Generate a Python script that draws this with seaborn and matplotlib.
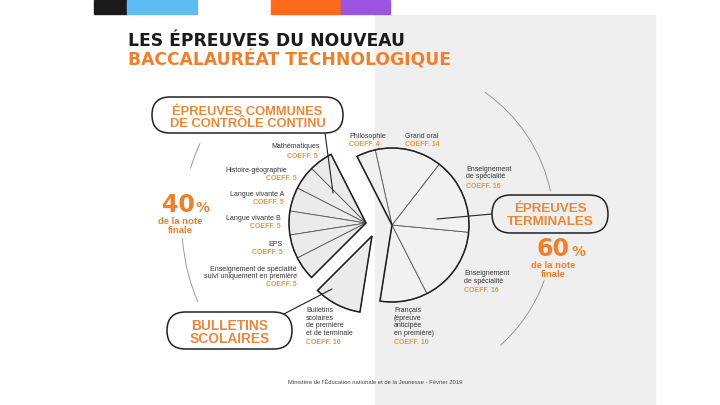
import numpy as np
import matplotlib.pyplot as plt
import seaborn as sns
from matplotlib.patches import FancyBboxPatch, Rectangle, Arc

sns.set_theme(style="white")
plt.rcParams["font.family"] = ["Liberation Sans", "DejaVu Sans"]

# data: coefficients of the "bac technologique" exams
cc_subjects = ["Mathématiques", "Histoire-géographie", "Langue vivante A",
               "Langue vivante B", "EPS",
               "Enseignement de spécialité\nsuivi uniquement en première"]
cc_coefs = [5, 5, 5, 5, 5, 5]
bulletin_subjects = ["Bulletins\nscolaires\nde première\net de terminale"]
bulletin_coefs = [10]
final_subjects = ["Français\n(épreuve\nanticipée\nen première)",
                  "Enseignement\nde spécialité", "Enseignement\nde spécialité",
                  "Grand oral", "Philosophie"]
final_coefs = [10, 16, 16, 14, 4]

orange = "#ef7f2a"
orange_lt = "#f0923c"
dark = "#333333"

fig = plt.figure(figsize=(7.2, 4.05), dpi=100)
ax = fig.add_axes([0, 0, 1, 1])

total = sum(cc_coefs) + sum(bulletin_coefs) + sum(final_coefs)
R = 77

# three exploded groups of the same pie (y axis is inverted, so clockwise in data)
groups = [
    (final_coefs, (392, 225), 99, "#f1f1f1"),
    (cc_coefs, (366, 223), -117, "#ebebeb"),
    (bulletin_coefs, (372, 236), -225, "#ebebeb"),
]
for coefs, center, start, fill in groups:
    fr = np.array(coefs) / total
    ax.pie(fr, normalize=False, startangle=start, counterclock=False,
           center=center, radius=R, colors=[fill] * len(coefs),
           wedgeprops=dict(edgecolor="#555555", linewidth=0.6), frame=True)
    ax.pie([fr.sum()], normalize=False, startangle=start, counterclock=False,
           center=center, radius=R, colors=["none"],
           wedgeprops=dict(edgecolor="#1e1e1e", linewidth=1.1, fill=False),
           frame=True)

ax.set_xlim(0, 720)
ax.set_ylim(405, 0)
ax.set_aspect("equal")
ax.axis("off")

# backgrounds and top bar
ax.add_patch(Rectangle((375, 15), 280, 390, color="#efefef", zorder=-5))
for x0, x1, c in [(94, 127, "#1a1a1a"), (127, 197, "#5dbdf2"),
                  (271, 341, "#ff6a1a"), (341, 390, "#9b55e0")]:
    ax.add_patch(Rectangle((x0, 0), x1 - x0, 14, color=c, zorder=-4))

# title
ax.text(128, 46, "LES ÉPREUVES DU NOUVEAU", fontsize=12.3, fontweight="bold",
        family="DejaVu Sans", color="#1a1a1a", va="baseline")
ax.text(128, 65, "BACCALAURÉAT TECHNOLOGIQUE", fontsize=12.3, fontweight="bold",
        family="DejaVu Sans", color=orange, va="baseline")

# big thin arcs
for c, r, t1, t2 in [((375, 225), 193, -163, -155), ((375, 225), 193, -203.5, -184),
                     ((392, 225), 162, -55, -12), ((392, 225), 162, 20, 48)]:
    ax.add_patch(Arc(c, 2 * r, 2 * r, theta1=t1, theta2=t2,
                     color="#8a8a8a", lw=0.6))

# boxes
for (x0, y0, x1, y1), fc, lines, fs in [
    ((152, 97, 343, 133), "white", [("ÉPREUVES COMMUNES", 115), ("DE CONTRÔLE CONTINU", 127)], 9.3),
    ((492, 195, 608, 233), "#efefef", [("ÉPREUVES", 212), ("TERMINALES", 225)], 9.6),
    ((167, 312, 292, 349), "white", [("BULLETINS", 330), ("SCOLAIRES", 343)], 9.9),
]:
    h = y1 - y0
    ax.add_patch(FancyBboxPatch((x0, y0), x1 - x0, h,
                                boxstyle=f"round,pad=0,rounding_size={h / 2}",
                                fc=fc, ec="#222222", lw=1.1, zorder=3))
    for s, yb in lines:
        ax.text((x0 + x1) / 2, yb, s, fontsize=fs, fontweight="bold",
                color="#e9873a", ha="center", va="baseline", zorder=4)

# leader lines
for (xa, ya), (xb, yb) in [((325, 133), (333, 193)), ((437, 219), (492, 214)),
                           ((280, 316), (332, 289))]:
    ax.plot([xa, xb], [ya, yb], color="#222222", lw=0.8, zorder=2)

# shares of the final mark
left_share = round(100 * (sum(cc_coefs) + sum(bulletin_coefs)) / total)
right_share = round(100 * sum(final_coefs) / total)
for num, xr, yb, xs in [(left_share, 195, 212, 180), (right_share, 570, 256, 553)]:
    ax.text(xr, yb, str(num), fontsize=17, fontweight="bold", family="DejaVu Sans",
            color=orange, ha="right", va="baseline")
    ax.text(xr + 1, yb, "%", fontsize=10, fontweight="bold", family="DejaVu Sans",
            color=orange, ha="left", va="baseline")
    ax.text(xs, yb + 12, "de la note", fontsize=6.8, fontweight="bold",
            color=orange, ha="center", va="baseline")
    ax.text(xs, yb + 21, "finale", fontsize=6.8, fontweight="bold",
            color=orange, ha="center", va="baseline")

# slice labels
cc_name_pos = [(320, 147), (287, 170), (284, 195), (281, 218), (283, 244), (297, 273)]
cc_coef_pos = [(318, 156), (297, 178), (284, 203), (281, 226), (283, 252), (297, 285)]
for s, c, (xn, yn), (xc, yc) in zip(cc_subjects, cc_coefs, cc_name_pos, cc_coef_pos):
    ax.text(xn, yn, s, fontsize=5, color=dark, ha="right", va="center",
            linespacing=1.15)
    ax.text(xc, yc, f"COEFF. {c}", fontsize=5, fontweight="bold",
            color=orange_lt, ha="right", va="center")

fin_name_pos = [(394, 322), (464, 277.5), (466, 173), (405, 137), (349, 136)]
fin_coef_pos = [(394, 342), (464, 290), (466, 186), (405, 145), (349, 144)]
right_subjects = final_subjects + bulletin_subjects
right_coefs = final_coefs + bulletin_coefs
for s, c, (xn, yn), (xc, yc) in zip(right_subjects, right_coefs,
                                    fin_name_pos + [(306, 322)],
                                    fin_coef_pos + [(306, 342)]):
    ax.text(xn, yn, s, fontsize=5, color=dark, ha="left", va="center",
            linespacing=1.15)
    ax.text(xc, yc, f"COEFF. {c}", fontsize=5, fontweight="bold",
            color=orange_lt, ha="left", va="center")

ax.text(375, 382, "Ministère de l'Éducation nationale et de la Jeunesse - Février 2019",
        fontsize=4.2, color="#444444", ha="center", va="center")

fig.savefig("out.png", dpi=100)
